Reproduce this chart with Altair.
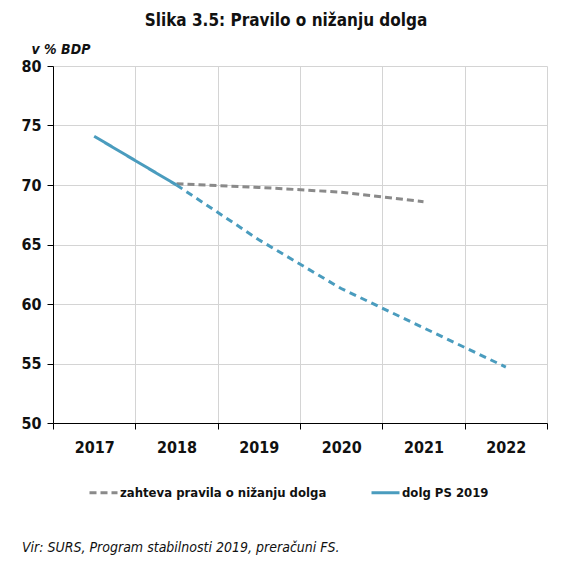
import altair as alt
import pandas as pd

FONT = "Liberation Sans Narrow, DejaVu Sans Condensed, Roboto Condensed, Arial Narrow, sans-serif"
BLUE = "#4a9cbe"
GREY = "#8a8a8a"

years = ["2017", "2018", "2019", "2020", "2021", "2022"]

# dolg PS 2019 (v % BDP)
dolg_years = ["2017", "2018", "2019", "2020", "2021", "2022"]
dolg = [74.1, 70.0, 65.4, 61.3, 58.0, 54.7]

# zahteva pravila o nizanju dolga
pravilo_years = ["2018", "2019", "2020", "2021"]
pravilo = [70.1, 69.8, 69.4, 68.6]

s_pravilo = "zahteva pravila o nižanju dolga"
s_dolg = "dolg PS 2019"

# realised part (solid) + rule line (dashed) -> these carry the legend
legend_df = pd.DataFrame({
    "leto": pravilo_years + dolg_years[:2],
    "vrednost": pravilo + dolg[:2],
    "serija": [s_pravilo] * len(pravilo) + [s_dolg] * 2,
})
# projected part of the debt (dashed blue), no legend entry
proj_df = pd.DataFrame({"leto": dolg_years[1:], "vrednost": dolg[1:]})

x_enc = alt.X(
    "leto:O",
    scale=alt.Scale(type="band", domain=years, paddingInner=0, paddingOuter=0),
    bandPosition=0.5,
    axis=alt.Axis(
        title=None, labelAngle=0, tickBand="extent", grid=True,
        gridColor="#d4d4d4", domainColor="#000000", tickColor="#000000",
        tickSize=6, labelFontSize=16, labelFontWeight="bold", labelPadding=10,
        labelColor="#111111",
    ),
)
y_enc = alt.Y(
    "vrednost:Q",
    scale=alt.Scale(domain=[50, 80], nice=False, zero=False),
    axis=alt.Axis(
        values=[50, 55, 60, 65, 70, 75, 80], grid=True, gridColor="#d4d4d4",
        domainColor="#000000", tickColor="#000000", tickSize=6,
        labelFontSize=16, labelFontWeight="bold", labelPadding=6, labelColor="#111111",
        title="v % BDP", titleAngle=0, titleAlign="left", titleBaseline="bottom",
        titleX=-22, titleY=-10, titleFontSize=14, titleFontWeight="bold",
        titleFontStyle="italic", titleColor="#111111",
    ),
)

lines = alt.Chart(legend_df).mark_line(strokeWidth=3).encode(
    x=x_enc,
    y=y_enc,
    color=alt.Color(
        "serija:N",
        scale=alt.Scale(domain=[s_pravilo, s_dolg], range=[GREY, BLUE]),
        legend=alt.Legend(
            title=None, orient="none", legendX=35, legendY=411,
            direction="horizontal", symbolType="stroke", symbolSize=784,
            symbolStrokeWidth=3, labelFontSize=13, labelFontWeight="bold",
            labelColor="#111111", columnPadding=38, labelOffset=1, labelLimit=400,
        ),
    ),
    strokeDash=alt.StrokeDash(
        "serija:N",
        scale=alt.Scale(domain=[s_pravilo, s_dolg], range=[[7, 4], [1, 0]]),
        legend=None,
    ),
)

proj = alt.Chart(proj_df).mark_line(strokeWidth=3, color=BLUE, strokeDash=[7, 5]).encode(
    x=alt.X("leto:O", bandPosition=0.5),
    y="vrednost:Q",
)

vir = alt.Chart(pd.DataFrame({"t": ["Vir: SURS, Program stabilnosti 2019, preračuni FS."]})).mark_text(
    align="left", baseline="middle", fontSize=14, fontStyle="italic", color="#111111", font=FONT,
).encode(text="t:N", x=alt.value(-31), y=alt.value(482))

chart = alt.layer(lines, proj, vir).properties(
    width=494,
    height=357,
    title=alt.TitleParams(
        "Slika 3.5: Pravilo o nižanju dolga", fontSize=17, fontWeight="bold",
        anchor="middle", dx=-14, offset=12, color="#111111", font=FONT,
    ),
    autosize=alt.AutoSizeParams(type="none"),
    padding={"left": 45, "top": 58, "right": 19, "bottom": 136},
).configure(font=FONT).configure_view(stroke=None)

chart.save("out.html", embed_options={"renderer": "svg", "actions": False})
